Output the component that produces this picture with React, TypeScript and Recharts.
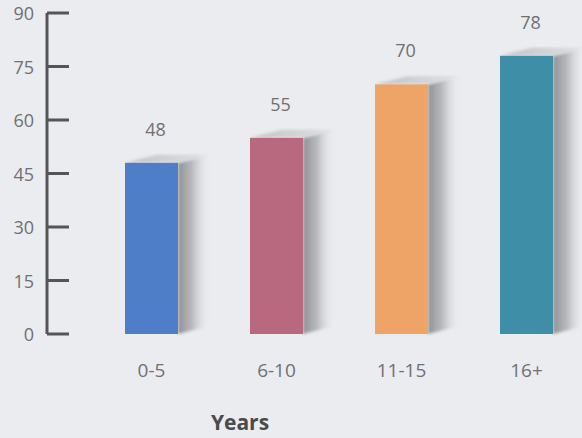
import React from "react";
import { BarChart, Bar, XAxis, YAxis, LabelList, Cell } from "recharts";

const years = ["0-5", "6-10", "11-15", "16+"];
const values = [48, 55, 70, 78];
const barColors = ["#4f7ec8", "#b8687f", "#eda466", "#3d8ea6"];
const yTicks = [0, 15, 30, 45, 60, 75, 90];

const data = years.map((y, i) => ({ years: y, value: values[i] }));

const DX = 32;
const DY = 8;
const AXIS = "#555558";
const TEXT = "#707073";

function Bar3D(props: any) {
     const { x, y, width, height, fill } = props;
     const b = y + height;
     return (
          <g>
               <polygon
                    points={`${x + width},${y} ${x + width + DX},${y - DY} ${x + width + DX},${b - DY} ${x + width},${b}`}
                    fill="url(#sideShade)"
                    filter="url(#soft)"
               />
               <polygon
                    points={`${x},${y} ${x + DX},${y - DY} ${x + width + DX},${y - DY} ${x + width},${y}`}
                    fill="url(#topShade)"
                    filter="url(#soft)"
               />
               <rect x={x} y={y} width={width} height={height} fill={fill} />
          </g>
     );
}

function YTick(props: any) {
     const { x, y, payload } = props;
     return (
          <g>
               <line x1={x + 13} x2={x + 35} y1={y} y2={y} stroke={AXIS} strokeWidth={3} />
               <text x={x} y={y} textAnchor="end" dominantBaseline="central" fill={TEXT} fontSize={18}>
                    {payload.value}
               </text>
          </g>
     );
}

export default function App() {
     return (
          <div
               style={{
                    position: "fixed",
                    left: 0,
                    top: 0,
                    width: 582,
                    height: 438,
                    overflow: "hidden",
                    background: "#ebecef",
                    fontFamily: '"Open Sans", sans-serif',
               }}
          >
               <BarChart width={600} height={438} data={data} margin={{ top: 13, right: 0, bottom: 44, left: 0 }}>
                    <defs>
                         <linearGradient id="sideShade" x1="0" y1="0" x2="1" y2="0">
                              <stop offset="0%" stopColor="#8f9093" stopOpacity={1} />
                              <stop offset="45%" stopColor="#b5b6b9" stopOpacity={0.9} />
                              <stop offset="100%" stopColor="#ebecef" stopOpacity={0} />
                         </linearGradient>
                         <linearGradient id="topShade" x1="0" y1="0" x2="1" y2="0">
                              <stop offset="0%" stopColor="#bfc0c3" stopOpacity={1} />
                              <stop offset="100%" stopColor="#d8d9dc" stopOpacity={0.7} />
                         </linearGradient>
                         <filter id="soft" x="-20%" y="-20%" width="140%" height="140%">
                              <feGaussianBlur stdDeviation={1.5} />
                         </filter>
                    </defs>
                    <XAxis
                         dataKey="years"
                         axisLine={false}
                         tickLine={false}
                         tickMargin={24}
                         height={60}
                         padding={{ left: 42, right: 11 }}
                         tick={{ fill: TEXT, fontSize: 19 }}
                    />
                    <YAxis
                         width={47}
                         domain={[0, 90]}
                         ticks={yTicks}
                         interval={0}
                         axisLine={{ stroke: AXIS, strokeWidth: 3 }}
                         tickLine={false}
                         tickMargin={7}
                         tick={<YTick />}
                    />
                    <Bar dataKey="value" barSize={53} shape={<Bar3D />} isAnimationActive={false}>
                         {data.map((d, i) => (
                              <Cell key={d.years} fill={barColors[i]} />
                         ))}
                         <LabelList dataKey="value" position="top" offset={27} dx={4} fill={TEXT} fontSize={18} />
                    </Bar>
               </BarChart>
               <div
                    style={{
                         position: "absolute",
                         left: 190,
                         top: 412,
                         width: 100,
                         textAlign: "center",
                         fontSize: 21,
                         lineHeight: "21px",
                         fontWeight: 700,
                         color: "#4a4a4d",
                    }}
               >
                    Years
               </div>
          </div>
     );
}
